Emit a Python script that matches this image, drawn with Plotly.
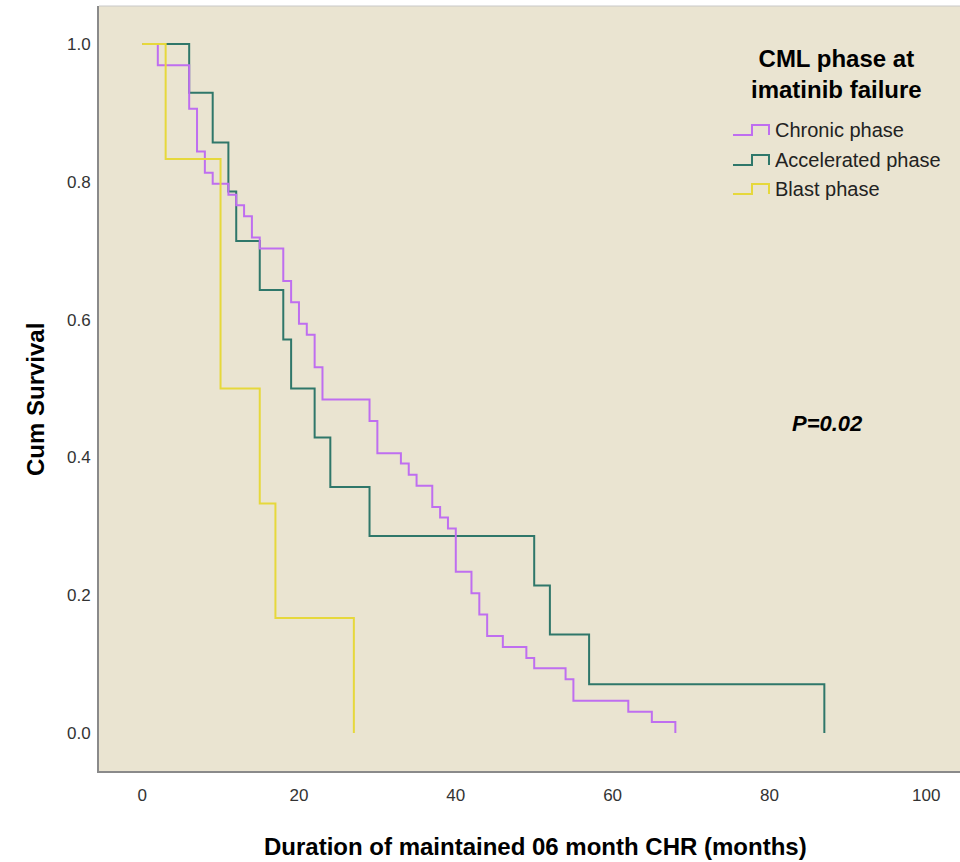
import plotly.graph_objects as go

# Kaplan-Meier step estimates by CML phase at imatinib failure
chronic_time = [0, 2, 6, 7, 8, 9, 11, 12, 13, 14, 15, 18, 19, 20, 21, 22, 23, 29, 30, 33,
                34, 35, 37, 38, 39, 40, 42, 43, 44, 46, 49, 50, 54, 55, 62, 65, 68]
chronic_surv = [1.0, 0.969, 0.906, 0.844, 0.813, 0.797, 0.781, 0.766, 0.750, 0.719,
                0.703, 0.656, 0.625, 0.594, 0.578, 0.531, 0.484, 0.453, 0.406, 0.391,
                0.375, 0.359, 0.328, 0.313, 0.297, 0.234, 0.203, 0.172, 0.141, 0.125,
                0.109, 0.094, 0.078, 0.047, 0.031, 0.016, 0.0]

accel_time = [0, 6, 9, 11, 12, 15, 18, 19, 22, 24, 29, 50, 52, 57, 87]
accel_surv = [1.0, 0.929, 0.857, 0.786, 0.714, 0.643, 0.571, 0.500, 0.429, 0.357,
              0.286, 0.214, 0.143, 0.071, 0.0]

blast_time = [0, 3, 10, 15, 17, 27]
blast_surv = [1.0, 0.833, 0.500, 0.333, 0.167, 0.0]

group_names = ["Chronic phase", "Accelerated phase", "Blast phase"]
x_ticks = [0, 20, 40, 60, 80, 100]
y_ticks = [0.0, 0.2, 0.4, 0.6, 0.8, 1.0]

COL_CHRONIC = "#BF6EF0"
COL_ACCEL = "#2F776A"
COL_BLAST = "#E6D83C"

W, H = 960, 862
ML, MR, MT, MB = 99, 0, 6, 91
PW, PH = W - ML - MR, H - MT - MB


def px_x(px):
    return (px - ML) / PW


def px_y(py):
    return (H - MB - py) / PH


FONT = "Liberation Sans, Arial, sans-serif"


def label(text, x, y, size, color="black", xanchor="center", **kw):
    return dict(text=text, x=px_x(x), y=px_y(y), xref="paper", yref="paper",
                xanchor=xanchor, yanchor="middle", showarrow=False,
                font=dict(size=size, color=color, family=FONT), **kw)


fig = go.Figure()
series = [
    (accel_time, accel_surv, COL_ACCEL, group_names[1]),
    (chronic_time, chronic_surv, COL_CHRONIC, group_names[0]),
    (blast_time, blast_surv, COL_BLAST, group_names[2]),
]
for t, s, c, name in series:
    fig.add_trace(go.Scatter(x=t, y=s, mode="lines", name=name,
                             line=dict(color=c, width=2, shape="hv"),
                             showlegend=False))

annotations = [
    label("<b>CML phase at<br>imatinib failure</b>", 836, 74, 24, align="center"),
    label("<b><i>P=0.02</i></b>", 827, 423, 22),
    label("<b>Duration of maintained 06 month CHR (months)</b>", 535, 846, 24),
    label("<b>Cum Survival</b>", 36, 400, 24, textangle=-90),
]

shapes = [
    dict(type="line", xref="paper", yref="paper", x0=0, x1=1, y0=1, y1=1,
         line=dict(color="#C8C8C8", width=1)),
]

# Legend entries with step-shaped keys
legend_rows = [(group_names[0], COL_CHRONIC, 130), (group_names[1], COL_ACCEL, 160),
               (group_names[2], COL_BLAST, 189)]
for name, col, yc in legend_rows:
    pts = [(733, yc + 5), (752, yc + 5), (752, yc - 5), (769, yc - 5), (769, yc + 5)]
    path = "M " + " L ".join(f"{px_x(a):.5f},{px_y(b):.5f}" for a, b in pts)
    shapes.append(dict(type="path", xref="paper", yref="paper", path=path,
                       line=dict(color=col, width=2)))
    annotations.append(label(name, 773, yc, 20, color="#222", xanchor="left"))

fig.update_layout(
    width=W, height=H,
    margin=dict(l=ML, r=MR, t=MT, b=MB),
    paper_bgcolor="white", plot_bgcolor="#EAE4D1",
    annotations=annotations, shapes=shapes,
    xaxis=dict(range=[-5.5, 104.3], tickvals=x_ticks, showgrid=False, zeroline=False,
               showline=True, linecolor="#8A8A8A", linewidth=2, ticks="",
               ticklabelstandoff=8, tickfont=dict(size=17, color="#333", family=FONT)),
    yaxis=dict(range=[-0.055, 1.055], tickvals=y_ticks, tickformat=".1f", showgrid=False,
               zeroline=False, showline=True, linecolor="#8A8A8A", linewidth=2, ticks="",
               ticklabelstandoff=3, tickfont=dict(size=17, color="#333", family=FONT)),
)

fig.write_html("out.html")
